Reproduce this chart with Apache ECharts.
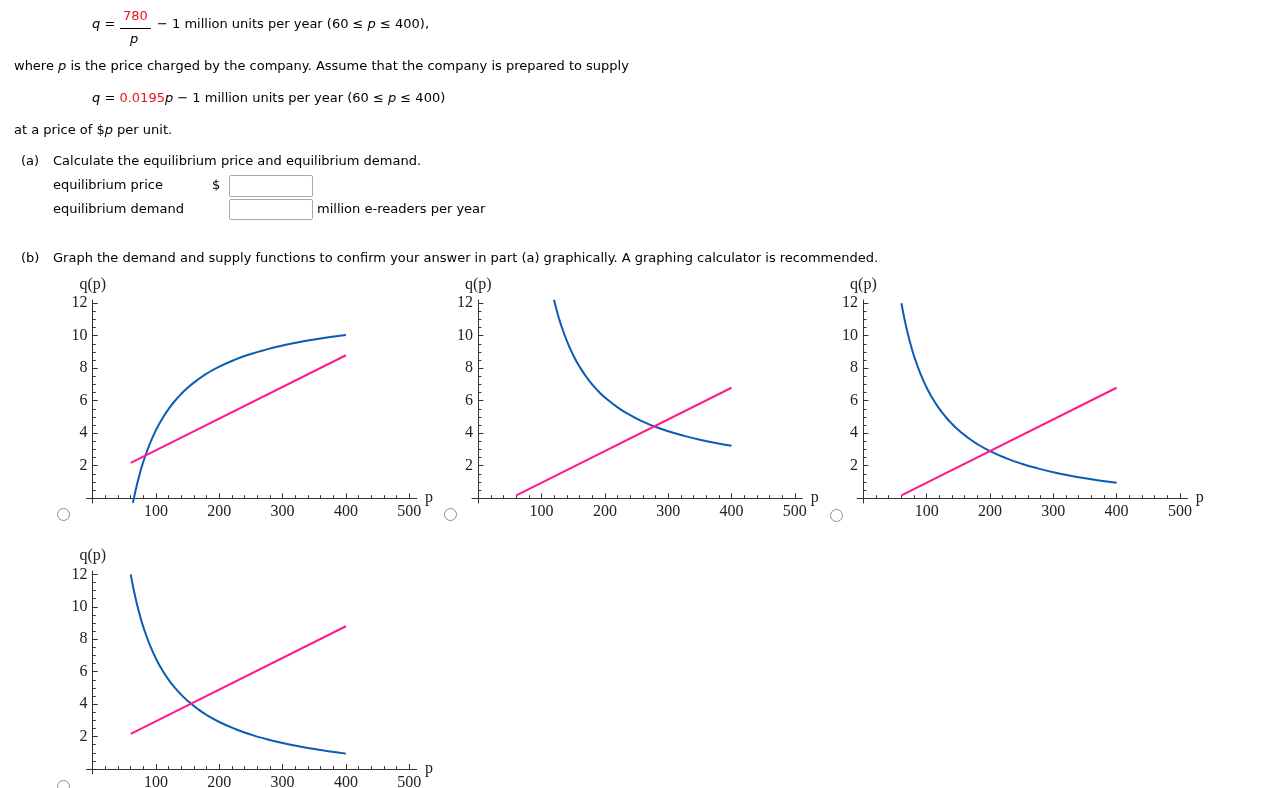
<!DOCTYPE html>
<html>
<head>
<meta charset="utf-8">
<script src="https://cdn.jsdelivr.net/npm/echarts@6.0.0/dist/echarts.min.js"></script>
<style>
  html, body { margin: 0; padding: 0; background: #fff; }
  #page { position: relative; width: 1261px; height: 788px; overflow: hidden; }
  #chart { position: absolute; left: 0; top: 0; width: 1261px; height: 788px; }
  .t { position: absolute; font-family: "DejaVu Sans", Verdana, sans-serif; font-size: 13px;
       line-height: 16px; color: #000; white-space: nowrap; z-index: 2; }
  .red { color: #e8141e; }
  .bar { position: absolute; height: 1px; background: #000; z-index: 2; }
  .box { position: absolute; border: 1px solid #a9a9a9; border-radius: 2px; background: #fff; z-index: 2; box-sizing: border-box; }
  .radio { position: absolute; width: 13px; height: 13px; border: 1px solid #8c8c8c; border-radius: 50%;
           box-sizing: border-box; background: #fff; z-index: 2; }
</style>
</head>
<body>
<div id="page">
  <div id="chart"></div>

  <div class="t" style="left:92px;top:16px"><i>q</i> =</div>
  <div class="t red" style="left:123px;top:8px">780</div>
  <div class="bar" style="left:120px;top:28px;width:31px"></div>
  <div class="t" style="left:130px;top:31px"><i>p</i></div>
  <div class="t" style="left:157px;top:16px">− 1 million units per year (60 ≤ <i>p</i> ≤ 400),</div>

  <div class="t" style="left:14px;top:58px">where <i>p</i> is the price charged by the company. Assume that the company is prepared to supply</div>

  <div class="t" style="left:92px;top:90px"><i>q</i> = <span class="red">0.0195</span><i>p</i> − 1 million units per year (60 ≤ <i>p</i> ≤ 400)</div>

  <div class="t" style="left:14px;top:122px">at a price of $<i>p</i> per unit.</div>

  <div class="t" style="left:21px;top:153px">(a)</div>
  <div class="t" style="left:53px;top:153px">Calculate the equilibrium price and equilibrium demand.</div>
  <div class="t" style="left:53px;top:177px">equilibrium price</div>
  <div class="t" style="left:212px;top:177px">$</div>
  <div class="box" style="left:229px;top:175px;width:84px;height:22px"></div>
  <div class="t" style="left:53px;top:201px">equilibrium demand</div>
  <div class="box" style="left:229px;top:199px;width:84px;height:21px"></div>
  <div class="t" style="left:317px;top:201px">million e-readers per year</div>

  <div class="t" style="left:21px;top:250px">(b)</div>
  <div class="t" style="left:53px;top:250px">Graph the demand and supply functions to confirm your answer in part (a) graphically. A graphing calculator is recommended.</div>

  <div class="radio" style="left:57px;top:508px"></div>
  <div class="radio" style="left:444px;top:508px"></div>
  <div class="radio" style="left:830px;top:509px"></div>
  <div class="radio" style="left:57px;top:780px"></div>
</div>

<script>
// ---- tick values ----
const xMajorTicks = [100, 200, 300, 400, 500];
const xMinorTicks = [20, 40, 60, 80, 120, 140, 160, 180, 220, 240, 260, 280,
                     320, 340, 360, 380, 420, 440, 460, 480];
const yMajorTicks = [2, 4, 6, 8, 10, 12];
const yMinorTicks = [0.5, 1, 1.5, 2.5, 3, 3.5, 4.5, 5, 5.5, 6.5, 7, 7.5,
                     8.5, 9, 9.5, 10.5, 11, 11.5];

// ---- chart A (top left) ----
const demandA = [[63.5, -0.28], [65, 0.00], [70, 0.86], [75, 1.60], [80, 2.25], [90, 3.33],
  [100, 4.20], [110, 4.91], [120, 5.50], [130, 6.00], [140, 6.43], [150, 6.80], [165, 7.27],
  [180, 7.67], [200, 8.10], [225, 8.53], [250, 8.88], [275, 9.16], [300, 9.40], [325, 9.60],
  [350, 9.77], [375, 9.92], [400, 10.05]];
const supplyA = [[60, 2.17], [400, 8.80]];

// ---- chart B (top middle) ----
const demandB = [[119.5, 12.22], [125, 11.40], [130, 10.75], [140, 9.67], [150, 8.80],
  [160, 8.09], [175, 7.24], [190, 6.57], [200, 6.20], [220, 5.59], [240, 5.11], [260, 4.71],
  [280, 4.39], [300, 4.12], [325, 3.84], [350, 3.60], [375, 3.40], [400, 3.23]];
const supplyB = [[60, 0.17], [400, 6.80]];

// ---- chart C (top right) ----
const demandC = [[60, 12.00], [65, 11.00], [70, 10.14], [75, 9.40], [80, 8.75], [90, 7.67],
  [100, 6.80], [110, 6.09], [120, 5.50], [130, 5.00], [140, 4.57], [150, 4.20], [165, 3.73],
  [180, 3.33], [200, 2.90], [225, 2.47], [250, 2.12], [275, 1.84], [300, 1.60], [325, 1.40],
  [350, 1.23], [375, 1.08], [400, 0.95]];
const supplyC = [[60, 0.17], [400, 6.80]];

// ---- chart D (bottom left) ----
const demandD = [[60, 12.00], [65, 11.00], [70, 10.14], [75, 9.40], [80, 8.75], [90, 7.67],
  [100, 6.80], [110, 6.09], [120, 5.50], [130, 5.00], [140, 4.57], [150, 4.20], [165, 3.73],
  [180, 3.33], [200, 2.90], [225, 2.47], [250, 2.12], [275, 1.84], [300, 1.60], [325, 1.40],
  [350, 1.23], [375, 1.08], [400, 0.95]];
const supplyD = [[60, 2.17], [400, 8.80]];

const panels = [
  { demand: demandA, supply: supplyA },
  { demand: demandB, supply: supplyB },
  { demand: demandC, supply: supplyC },
  { demand: demandD, supply: supplyD }
];

// layout (pixels)
const gridBoxes = [
  { left: 86.4, top: 300.0, width: 330.4, height: 203.1 },
  { left: 472.0, top: 300.0, width: 330.4, height: 203.1 },
  { left: 857.1, top: 300.0, width: 330.4, height: 203.1 },
  { left: 86.4, top: 571.1, width: 330.4, height: 202.8 }
];

const SERIF = '"Liberation Serif", "Times New Roman", serif';
const AXC = '#333';
const TXC = '#222';
const BLUE = '#0a5cb5';
const PINK = '#ff1a8c';
const LFS = 16;

const xAxes = [], yAxes = [], series = [];
panels.forEach((pnl, i) => {
  const base = { type: 'value', gridIndex: i, splitLine: { show: false } };
  xAxes.push(Object.assign({}, base, {
    position: 'bottom', min: -10, max: 512,
    name: 'p', nameLocation: 'end', nameGap: 6,
    nameTextStyle: { fontFamily: SERIF, fontSize: LFS, color: TXC, verticalAlign: 'middle', padding: [12, 0, 0, 0] },
    axisLine: { show: true, onZero: true, lineStyle: { color: AXC, width: 1 } },
    axisTick: { show: true, inside: true, length: 5, customValues: xMajorTicks, lineStyle: { color: AXC } },
    axisLabel: { show: true, customValues: xMajorTicks, margin: 1, fontFamily: SERIF, fontSize: LFS, color: TXC }
  }));
  xAxes.push(Object.assign({}, base, {
    position: 'bottom', min: -10, max: 512,
    axisLine: { show: false, onZero: true },
    axisTick: { show: true, inside: true, length: 3, customValues: xMinorTicks, lineStyle: { color: AXC } },
    axisLabel: { show: false }
  }));
  yAxes.push(Object.assign({}, base, {
    position: 'left', min: -0.3, max: 12.2,
    name: 'q(p)', nameLocation: 'end', nameGap: 15,
    nameTextStyle: { fontFamily: SERIF, fontSize: LFS, color: TXC, align: 'center', verticalAlign: 'middle' },
    axisLine: { show: true, onZero: true, lineStyle: { color: AXC, width: 1 } },
    axisTick: { show: true, inside: true, length: 5, customValues: yMajorTicks, lineStyle: { color: AXC } },
    axisLabel: { show: true, customValues: yMajorTicks, margin: -1, fontFamily: SERIF, fontSize: LFS, color: TXC }
  }));
  yAxes.push(Object.assign({}, base, {
    position: 'left', min: -0.3, max: 12.2,
    axisLine: { show: false, onZero: true },
    axisTick: { show: true, inside: true, length: 3, customValues: yMinorTicks, lineStyle: { color: AXC } },
    axisLabel: { show: false }
  }));
  series.push({
    type: 'line', xAxisIndex: 2 * i, yAxisIndex: 2 * i, data: pnl.demand,
    symbol: 'none', showSymbol: false, smooth: 0.5, silent: true,
    lineStyle: { color: BLUE, width: 2 }, z: 2
  });
  series.push({
    type: 'line', xAxisIndex: 2 * i, yAxisIndex: 2 * i, data: pnl.supply,
    symbol: 'none', showSymbol: false, silent: true,
    lineStyle: { color: PINK, width: 2 }, z: 3
  });
});

const chart = echarts.init(document.getElementById('chart'), null, { renderer: 'canvas' });
chart.setOption({
  animation: false,
  backgroundColor: '#fff',
  grid: gridBoxes.map(g => Object.assign({ containLabel: false, outerBoundsMode: 'none' }, g)),
  xAxis: xAxes,
  yAxis: yAxes,
  series: series
});
</script>
</body>
</html>
